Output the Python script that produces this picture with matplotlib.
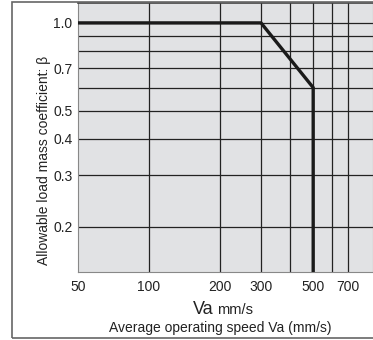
import matplotlib
matplotlib.use("Agg")
import matplotlib.pyplot as plt
from matplotlib.patches import Rectangle
from matplotlib.ticker import FixedLocator, NullFormatter, FixedFormatter

plt.rcParams['font.family'] = ['Liberation Sans', 'DejaVu Sans']

# curve: allowable load mass coefficient vs average speed
speed = [50, 300, 500, 500]
beta = [1.0, 1.0, 0.6, 0.14]

x_grid = [100, 200, 300, 400, 500, 600, 700]
y_grid = [0.2, 0.3, 0.4, 0.5, 0.6, 0.7, 0.8, 0.9, 1.0]
x_ticks = [50, 100, 200, 300, 500, 700]
y_ticks = [0.2, 0.3, 0.4, 0.5, 0.7, 1.0]

W, H = 373, 340
fig = plt.figure(figsize=(W / 100, H / 100), dpi=100)

# outer frame (right side runs off the picture)
fig.patches.append(Rectangle((12 / W, 2 / H), 1.1, (338 - 2) / H, transform=fig.transFigure,
                             fill=False, edgecolor='#666666', linewidth=1.2))

ax = fig.add_axes([78 / W, 1 - 272 / H, (373 - 78) / W, (272 - 3) / H])
ax.set_facecolor('#e1e2e4')
ax.set_xscale('log')
ax.set_yscale('log')
ax.set_xlim(50, 898)
ax.set_ylim(0.14, 1.17)

for xv in x_grid:
    ax.axvline(xv, color='#222222', linewidth=0.9, zorder=1)
for yv in y_grid:
    ax.axhline(yv, color='#222222', linewidth=0.9, zorder=1)

ax.plot(speed, beta, color='#1a1a1a', linewidth=2.4, zorder=3, solid_joinstyle='miter')

ax.xaxis.set_major_locator(FixedLocator(x_ticks))
ax.xaxis.set_major_formatter(FixedFormatter([str(v) for v in x_ticks]))
ax.xaxis.set_minor_formatter(NullFormatter())
ax.yaxis.set_major_locator(FixedLocator(y_ticks))
ax.yaxis.set_major_formatter(FixedFormatter(['%.1f' % v for v in y_ticks]))
ax.yaxis.set_minor_formatter(NullFormatter())
ax.tick_params(which='both', length=0, labelsize=10, colors='#222222', pad=6)
ax.tick_params(axis='y', pad=4)

for s in ['left', 'bottom', 'right']:
    ax.spines[s].set_color('#888888')
ax.spines['top'].set_color('#444444')
ax.spines['top'].set_linewidth(1.2)

fig.text(214 / W, 1 - 309 / H, 'Va', fontsize=13, ha='right', va='center', color='#222222')
fig.text(217 / W, 1 - 310 / H, 'mm/s', fontsize=10.5, ha='left', va='center', color='#222222')
fig.text(220 / W, 1 - 328 / H, 'Average operating speed Va (mm/s)', fontsize=10,
         ha='center', va='center', color='#222222')
fig.text(44 / W, 1 - 160 / H, 'Allowable load mass coefficient: β', fontsize=10,
         rotation=90, ha='center', va='center', color='#222222')

fig.savefig('out.png', dpi=100)
